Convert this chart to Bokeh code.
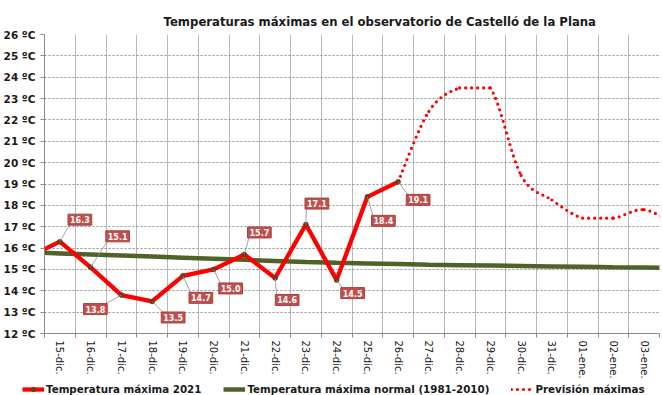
import math
import numpy as np
from bokeh.plotting import figure
from bokeh.layouts import column
from bokeh.models import FixedTicker, Legend, LegendItem, ColumnDataSource
from bokeh.core.properties import value
from bokeh.embed import file_html
from bokeh.resources import INLINE

# ---------------- data ----------------
dias = ["14-dic.", "15-dic.", "16-dic.", "17-dic.", "18-dic.", "19-dic.", "20-dic.",
        "21-dic.", "22-dic.", "23-dic.", "24-dic.", "25-dic.", "26-dic.", "27-dic.",
        "28-dic.", "29-dic.", "30-dic.", "31-dic.", "01-ene.", "02-ene.", "03-ene.",
        "04-ene."]
# observed maxima 14-dic .. 26-dic
tmax_2021 = [15.6, 16.3, 15.1, 13.8, 13.5, 14.7, 15.0, 15.7, 14.6, 17.1, 14.5, 18.4, 19.1]
# normal maxima 1981-2010, 14-dic .. 04-ene
tmax_normal = [15.80, 15.75, 15.70, 15.65, 15.60, 15.55, 15.50, 15.45, 15.40, 15.35,
               15.31, 15.28, 15.25, 15.22, 15.20, 15.18, 15.16, 15.14, 15.12, 15.10,
               15.09, 15.07]
# forecast 26-dic .. 04-ene
prevision = [19.1, 22.4, 23.5, 23.5, 19.4, 18.25, 17.4, 17.4, 17.8, 17.1]
visible_dias = dias[1:21]
yticks = list(range(12, 27))

# label offsets (screen px) for the data labels 15-dic .. 26-dic
label_dx = [20, 27, -26, 21, 18, 17, 15, 12, 11, 16, 16, 20]
label_dy = [-22, -31, 14, 16, 22, 19, -22, 22, -21, 13, 24, 18]

# ---------------- layout ----------------
FONT = "DejaVu Sans"
W = 662
H = 382          # chart part
HL = 13          # legend strip
LEFT, RIGHT, TOP, BOTTOM = 44, 3, 34, 49
XR = (-0.5, 19.5)
YR = (12, 26)

x_all = np.arange(len(dias)) - 1          # 14-dic -> -1
x_obs = x_all[:len(tmax_2021)]
x_prev = x_all[len(tmax_2021) - 1:len(tmax_2021) - 1 + len(prevision)]

p = figure(width=W, height=H, output_backend="svg", toolbar_location=None,
           x_range=XR, y_range=YR,
           min_border_left=LEFT, min_border_right=RIGHT,
           min_border_top=TOP, min_border_bottom=BOTTOM)
p.background_fill_color = "white"
p.border_fill_color = "white"
p.outline_line_color = None

p.title.text = "Temperaturas máximas en el observatorio de Castelló de la Plana"
p.title.text_font = FONT
p.title.text_font_size = "11.7px"
p.title.text_font_style = "bold"
p.title.text_color = "#1a1a1a"
p.title.align = "left"
p.title.offset = 119
p.title.standoff = 11

# axes
p.yaxis.ticker = FixedTicker(ticks=yticks)
p.yaxis.major_label_overrides = {t: f"{t} ºC" for t in yticks}
p.yaxis.major_label_text_font = FONT
p.yaxis.major_label_text_font_size = "10.5px"
p.yaxis.major_label_text_font_style = "bold"
p.yaxis.major_label_text_color = "#1a1a1a"
p.yaxis.axis_line_color = "#8a8a8a"
p.yaxis.major_tick_line_color = "#8a8a8a"
p.yaxis.major_tick_out = 4
p.yaxis.major_tick_in = 0
p.yaxis.minor_tick_line_color = None
p.yaxis.major_label_standoff = 5

centers = list(range(len(visible_dias)))
bounds = [c - 0.5 for c in centers] + [centers[-1] + 0.5]
p.xaxis.ticker = FixedTicker(ticks=centers, minor_ticks=bounds)
p.xaxis.major_label_overrides = {c: d for c, d in zip(centers, visible_dias)}
p.xaxis.major_label_orientation = -math.pi / 2
p.xaxis.major_label_text_font = FONT
p.xaxis.major_label_text_font_size = "10px"
p.xaxis.major_label_text_color = "#1a1a1a"
p.xaxis.axis_line_color = "#8a8a8a"
p.xaxis.major_tick_line_color = None
p.xaxis.major_tick_out = 0
p.xaxis.major_tick_in = 0
p.xaxis.minor_tick_line_color = "#8a8a8a"
p.xaxis.minor_tick_out = 4
p.xaxis.minor_tick_in = 0
p.xaxis.major_label_standoff = 3

# grids
p.xgrid.ticker = FixedTicker(ticks=bounds)
p.xgrid.grid_line_color = "#b8b8b8"
p.xgrid.grid_line_width = 1
p.ygrid.ticker = FixedTicker(ticks=yticks)
p.ygrid.grid_line_color = "#8f8f8f"
p.ygrid.grid_line_dash = "2 2"
p.ygrid.grid_line_width = 1

RED = "#ff0000"
GREEN = "#4f6228"
DOT = dict(line_color=RED, line_width=3.2, line_dash="0 6", line_cap="round")

# normal line
p.line(x_all, tmax_normal, line_color=GREEN, line_width=4.5)

# forecast: smoothed (bezier) dotted line built from the forecast values
xp = list(map(float, x_prev))
yp = list(prevision)
n = len(xp)
seg = dict(x0=[], y0=[], x1=[], y1=[], cx0=[], cy0=[], cx1=[], cy1=[])
for i in range(n - 1):
    xa, ya = xp[i], yp[i]
    xb, yb = xp[i + 1], yp[i + 1]
    xm, ym = (xp[i - 1], yp[i - 1]) if i > 0 else (xa, ya)
    xn, yn = (xp[i + 2], yp[i + 2]) if i + 2 < n else (xb, yb)
    if ya == yb:
        c0 = (xa + (xb - xa) / 3, ya)
        c1 = (xb - (xb - xa) / 3, yb)
    else:
        c0 = (xa + (xb - xm) / 6, ya + (yb - ym) / 6)
        c1 = (xb - (xn - xa) / 6, yb - (yn - ya) / 6)
    seg["x0"].append(xa); seg["y0"].append(ya)
    seg["x1"].append(xb); seg["y1"].append(yb)
    seg["cx0"].append(c0[0]); seg["cy0"].append(c0[1])
    seg["cx1"].append(c1[0]); seg["cy1"].append(c1[1])
p.bezier(x0="x0", y0="y0", x1="x1", y1="y1", cx0="cx0", cy0="cy0",
         cx1="cx1", cy1="cy1", source=ColumnDataSource(seg), **DOT)

# observed line
p.line(x_obs, tmax_2021, line_color=RED, line_width=4.3)
p.scatter(x_obs, tmax_2021, marker="circle", size=5,
          fill_color="#7a3418", line_color="#5a4a1a", line_width=0.5)

# data labels with leader lines
ppx = (W - LEFT - RIGHT) / (XR[1] - XR[0])
ppy = (H - TOP - BOTTOM) / (YR[1] - YR[0])
HW, HH = 10.5, 5.5
lx = list(map(float, x_obs[1:]))
ly = tmax_2021[1:]
ex, ey = [], []
for x, y, dx, dy in zip(lx, ly, label_dx, label_dy):
    sx = dx - math.copysign(HW, dx)
    sy = dy - math.copysign(HH, dy)
    ex.append(x + sx / ppx)
    ey.append(y - sy / ppy)
p.segment(x0=lx, y0=ly, x1=ex, y1=ey, line_color="#8c8c8c", line_width=0.8)
p.text(x=lx, y=ly, text=[f"{v:.1f}" for v in ly],
       x_offset=label_dx, y_offset=label_dy,
       text_font=value(FONT), text_font_size="8px", text_font_style="bold",
       text_color="white", text_align="center", text_baseline="middle",
       background_fill_color="#c0504d", border_line_color="#a84440",
       padding=2)

# ---------------- legend strip ----------------
leg = figure(width=W, height=HL, output_backend="svg", toolbar_location=None,
             x_range=(100, 101), y_range=(0, 1),
             x_axis_type=None, y_axis_type=None, min_border=0)
leg.outline_line_color = None
leg.grid.visible = False
leg.background_fill_color = "white"
leg.border_fill_color = "white"
LEG_X = 22
if "frame_align" in leg.properties():
    leg.frame_align = False
else:
    leg.min_border_left = LEFT
    leg.min_border_right = RIGHT
    LEG_X = 22 - LEFT
# same styles as the chart's series; their data lie outside this strip's range
l_obs = leg.line(x_obs, tmax_2021, line_color=RED, line_width=4.3)
l_pts = leg.scatter(x_obs, tmax_2021, marker="circle", size=5,
                    fill_color="#7a3418", line_color="#5a4a1a", line_width=0.5)
l_norm = leg.line(x_all, tmax_normal, line_color=GREEN, line_width=4.5)
l_prev = leg.line(x_prev, prevision, **DOT)

legend = Legend(items=[
    LegendItem(label="Temperatura máxima 2021", renderers=[l_obs, l_pts]),
    LegendItem(label="Temperatura máxima normal (1981-2010)", renderers=[l_norm]),
    LegendItem(label="Previsión máximas", renderers=[l_prev]),
], orientation="horizontal", location=(LEG_X, 0))
legend.label_text_font = FONT
legend.label_text_font_size = "10.3px"
legend.label_text_font_style = "bold"
legend.label_text_color = "#1a1a1a"
legend.glyph_width = 22
legend.glyph_height = 12
legend.label_height = 12
legend.label_standoff = 2
legend.spacing = 22
legend.padding = 0
legend.margin = 0
legend.border_line_color = None
legend.background_fill_alpha = 0
leg.add_layout(legend, "center")

layout = column(p, leg, spacing=0)
open("out.html", "w").write(file_html(layout, INLINE))
